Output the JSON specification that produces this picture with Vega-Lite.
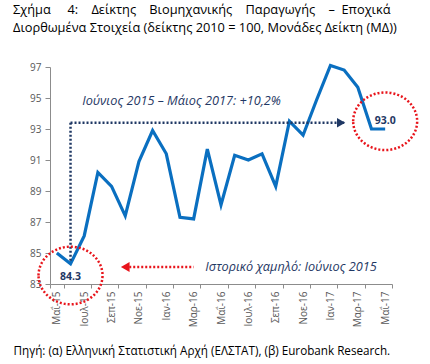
{
  "$schema": "https://vega.github.io/schema/vega-lite/v6.json",
  "width": 342,
  "height": 217,
  "autosize": {"type": "none"},
  "padding": {"left": 50, "top": 67, "right": 38, "bottom": 80},
  "background": "white",
  "config": {"view": {"stroke": null}, "font": "Open Sans"},
  "title": {
    "text": ["Σχήμα\u00a0\u00a0\u00a0\u00a0 4:\u00a0\u00a0\u00a0 Δείκτης\u00a0\u00a0\u00a0 Βιομηχανικής\u00a0\u00a0\u00a0 Παραγωγής\u00a0\u00a0\u00a0 –\u00a0 Εποχικά", "Διορθωμένα Στοιχεία (δείκτης 2010 = 100, Μονάδες Δείκτη (ΜΔ))"],
    "anchor": "start",
    "frame": "group",
    "dx": -37,
    "font": "Open Sans",
    "fontSize": 12.8,
    "fontWeight": "normal",
    "color": "#000000",
    "lineHeight": 18,
    "offset": 24
  },
  "datasets": {
    "series": [
      {"m": "Μαΐ-15", "v": 85.0}, {"m": "Ιουν-15", "v": 84.3}, {"m": "Ιουλ-15", "v": 86.1},
      {"m": "Αυγ-15", "v": 90.2}, {"m": "Σεπ-15", "v": 89.3}, {"m": "Οκτ-15", "v": 87.4},
      {"m": "Νοε-15", "v": 90.9}, {"m": "Δεκ-15", "v": 92.9}, {"m": "Ιαν-16", "v": 91.4},
      {"m": "Φεβ-16", "v": 87.3}, {"m": "Μαρ-16", "v": 87.2}, {"m": "Απρ-16", "v": 91.7},
      {"m": "Μαΐ-16", "v": 88.1}, {"m": "Ιουν-16", "v": 91.3}, {"m": "Ιουλ-16", "v": 91.0},
      {"m": "Αυγ-16", "v": 91.4}, {"m": "Σεπ-16", "v": 89.3}, {"m": "Οκτ-16", "v": 93.5},
      {"m": "Νοε-16", "v": 92.6}, {"m": "Δεκ-16", "v": 94.9}, {"m": "Ιαν-17", "v": 97.1},
      {"m": "Φεβ-17", "v": 96.8}, {"m": "Μαρ-17", "v": 95.7}, {"m": "Απρ-17", "v": 93.0},
      {"m": "Μαΐ-17", "v": 93.0}
    ]
  },
  "encoding": {
    "x": {
      "field": "m",
      "type": "nominal",
      "sort": null,
      "scale": {
        "type": "band",
        "paddingInner": 0,
        "paddingOuter": 0,
        "domain": ["Μαΐ-15", "Ιουν-15", "Ιουλ-15", "Αυγ-15", "Σεπ-15", "Οκτ-15", "Νοε-15", "Δεκ-15", "Ιαν-16", "Φεβ-16", "Μαρ-16", "Απρ-16", "Μαΐ-16", "Ιουν-16", "Ιουλ-16", "Αυγ-16", "Σεπ-16", "Οκτ-16", "Νοε-16", "Δεκ-16", "Ιαν-17", "Φεβ-17", "Μαρ-17", "Απρ-17", "Μαΐ-17"]
      },
      "axis": {
        "values": ["Μαΐ-15", "Ιουλ-15", "Σεπ-15", "Νοε-15", "Ιαν-16", "Μαρ-16", "Μαΐ-16", "Ιουλ-16", "Σεπ-16", "Νοε-16", "Ιαν-17", "Μαρ-17", "Μαΐ-17"],
        "tickBand": "extent",
        "labelAngle": -90,
        "tickSize": 4,
        "labelPadding": 3,
        "domainColor": "#8c8c8c",
        "tickColor": "#8c8c8c",
        "labelColor": "#595959",
        "labelFont": "Open Sans",
        "labelFontSize": 10,
        "title": "Πηγή: (α) Ελληνική Στατιστική Αρχή (ΕΛΣΤΑΤ), (β) Eurobank Research.",
        "titleAnchor": "start",
        "titleAlign": "left",
        "titleX": -37,
        "titleY": 70,
        "titleBaseline": "alphabetic",
        "titleFont": "Open Sans",
        "titleFontSize": 11.7,
        "titleFontWeight": "normal",
        "titleColor": "#000000"
      }
    },
    "y": {
      "field": "v",
      "type": "quantitative",
      "scale": {"domain": [83, 97], "nice": false, "zero": false},
      "axis": {
        "values": [83, 85, 87, 89, 91, 93, 95, 97],
        "grid": false,
        "title": null,
        "tickSize": 5,
        "labelPadding": 4,
        "domainColor": "#8c8c8c",
        "tickColor": "#8c8c8c",
        "labelColor": "#595959",
        "labelFont": "Open Sans",
        "labelFontSize": 10
      }
    }
  },
  "layer": [
    {
      "data": {"name": "series"},
      "mark": {"type": "line", "color": "#0a6fc0", "strokeWidth": 3.2}
    },
    {
      "data": {"values": [
        {"m": "Ιουν-15", "m2": "Φεβ-17", "v": 93.4, "v2": 93.4},
        {"m": "Ιουν-15", "m2": "Ιουν-15", "v": 93.4, "v2": 84.5}
      ]},
      "mark": {"type": "rule", "color": "#1f3864", "strokeWidth": 2.5, "strokeDash": [2, 2]},
      "encoding": {"x2": {"field": "m2"}, "y2": {"field": "v2"}}
    },
    {
      "data": {"values": [{"m": "Φεβ-17", "v": 93.4}]},
      "mark": {"type": "point", "shape": "triangle-right", "filled": true, "color": "#1f3864", "opacity": 1, "size": 90, "xOffset": -3}
    },
    {
      "data": {"values": [{"m": "Οκτ-15", "m2": "Μαρ-16", "v": 84.1}]},
      "mark": {"type": "rule", "color": "#e8141b", "strokeWidth": 2.5, "strokeDash": [2, 2]},
      "encoding": {"x2": {"field": "m2"}}
    },
    {
      "data": {"values": [{"m": "Οκτ-15", "v": 84.1}]},
      "mark": {"type": "point", "shape": "triangle-left", "filled": true, "color": "#e8141b", "opacity": 1, "size": 100}
    },
    {
      "data": {"values": [{"m": "Ιουν-15", "v": 83.55}, {"m": "Μαΐ-17", "v": 93.5}]},
      "mark": {
        "type": "point",
        "shape": "M-1,0C-1,-0.497,-0.552,-0.9,0,-0.9C0.552,-0.9,1,-0.497,1,0C1,0.497,0.552,0.9,0,0.9C-0.552,0.9,-1,0.497,-1,0Z",
        "filled": false,
        "stroke": "#e8141b",
        "strokeWidth": 2.5,
        "strokeDash": [2, 2],
        "opacity": 1,
        "size": 4096
      }
    },
    {
      "data": {"values": [
        {"m": "Ιουλ-15", "v": 94.8, "t": "Ιούνιος 2015 – Μάιος 2017: +10,2%"},
        {"m": "Απρ-16", "v": 84.1, "t": "Ιστορικό χαμηλό: Ιούνιος 2015"}
      ]},
      "mark": {"type": "text", "align": "left", "baseline": "middle", "fontStyle": "italic", "fontSize": 12.7, "color": "#1f3864", "dx": -2},
      "encoding": {"text": {"field": "t"}}
    },
    {
      "data": {"values": [
        {"m": "Ιουν-15", "v": 83.45, "t": "84.3"},
        {"m": "Μαΐ-17", "v": 93.5, "t": "93.0"}
      ]},
      "mark": {"type": "text", "align": "center", "baseline": "middle", "fontWeight": "bold", "fontSize": 10.5, "color": "#1f3864"},
      "encoding": {"text": {"field": "t"}}
    }
  ]
}
